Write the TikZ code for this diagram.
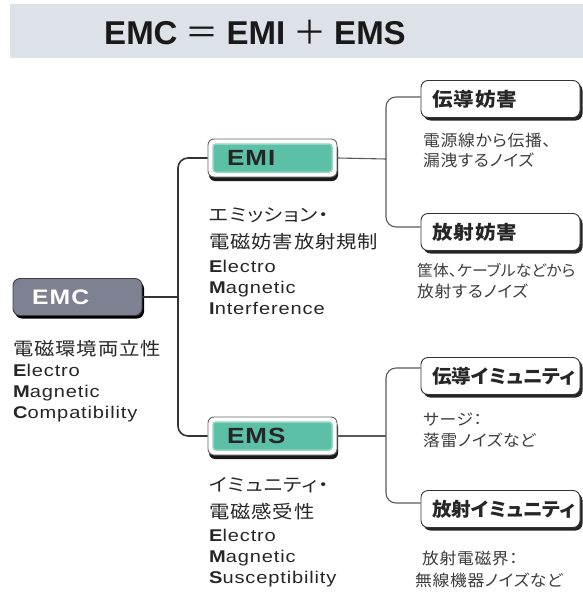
\documentclass[tikz,border=0pt]{standalone}
\usepackage{fontspec}
\usetikzlibrary{shadows}
\setmainfont{Liberation Sans}
\newfontfamily\jp[RawFeature=+palt]{Noto Sans CJK JP}
\newfontfamily\jpsp[RawFeature=+palt,FakeStretch=1.13,LetterSpace=5]{Noto Sans CJK JP}
\newfontfamily\jpbox[RawFeature=+palt,FakeStretch=1.08,LetterSpace=6]{Noto Sans CJK JP}
\newfontfamily\jpboxn[RawFeature=+palt,FakeStretch=1.03,LetterSpace=0.5]{Noto Sans CJK JP}
\newfontfamily\jpsm[RawFeature=+palt,FakeStretch=1.05,LetterSpace=4]{Noto Sans CJK JP}
\newfontfamily\jpsmn[RawFeature=+palt,FakeStretch=1.02,LetterSpace=1]{Noto Sans CJK JP}
\newfontfamily\lat[FakeStretch=1.18,LetterSpace=5]{Liberation Sans}
\definecolor{band}{HTML}{DCE2E8}
\definecolor{emcfill}{HTML}{7E8192}
\definecolor{tealf}{HTML}{5CC0A6}
\definecolor{tealb}{HTML}{8FD5C2}
\definecolor{txt}{HTML}{262626}
\definecolor{lin}{HTML}{333333}
\newcommand{\B}[1]{{\bfseries #1}}
\begin{document}
\begin{tikzpicture}[x=1pt,y=-1pt,
  emcbox/.style={draw=black!75,line width=0.9pt,fill=emcfill,rounded corners=7pt,
    minimum height=37pt,text width=91pt,inner xsep=19pt,inner ysep=0pt,align=left,
    text=white,font=\fontsize{21}{21}\selectfont\bfseries\lat,
    drop shadow={shadow xshift=2pt,shadow yshift=-3pt,fill=black,opacity=1}},
  subbox/.style={draw=black!60,line width=0.9pt,fill=white,rounded corners=6pt,
    minimum height=38pt,text width=91pt,inner xsep=19pt,inner ysep=0pt,align=left,
    text=txt,font=\fontsize{22}{22}\selectfont\bfseries\lat,
    drop shadow={shadow xshift=1pt,shadow yshift=-4pt,fill=black!90,opacity=1},
    path picture={\fill[tealf,draw=tealb,line width=1.5pt,rounded corners=3pt]
      ([shift={(5pt,-5pt)}]path picture bounding box.north west) rectangle
      ([shift={(-5pt,5pt)}]path picture bounding box.south east);}},
  leafbox/.style={draw=black!80,line width=0.9pt,fill=white,rounded corners=7pt,
    minimum height=37pt,text width=150pt,inner xsep=4.5pt,inner ysep=0pt,align=left,
    text=txt,font=\fontsize{19}{19}\selectfont\bfseries\jpbox,
    drop shadow={shadow xshift=2.5pt,shadow yshift=-3pt,fill=black!85,opacity=1}},
  jpdesc/.style={anchor=west,inner sep=0pt,text=txt,font=\fontsize{18}{18}\selectfont\jpsp},
  endesc/.style={anchor=north west,inner sep=0pt,text=txt,align=left,
    font=\fontsize{17}{21}\selectfont\lat},
  leafdesc/.style={anchor=west,inner sep=0pt,text=txt!90,font=\fontsize{16}{16}\selectfont\jpsm},
  conn/.style={draw=lin,line width=1.6pt},
  thin/.style={draw=black!65,line width=1.1pt}]
\useasboundingbox (0,0) rectangle (583,594);
% title band
\fill[band] (10,4) rectangle (583,58);
\node[inner sep=0pt,text=black!90] (title) at (255,32)
  {\fontsize{33}{33}\selectfont\bfseries EMC\hspace{8pt}{\jp\mdseries ＝}\hspace{8pt}EMI\hspace{8pt}{\jp\mdseries ＋}\hspace{8pt}EMS};
% main boxes
\node[emcbox] (emc) at (77.5,297) {EMC};
\node[subbox] (emi) at (272.5,158) {EMI};
\node[subbox] (ems) at (272.5,436) {EMS};
% leaf boxes
\node[leafbox] (b1) at (500.5,99) {\hspace*{6.5pt}伝導妨害};
\node[leafbox] (b2) at (500.5,232) {\hspace*{6.5pt}放射妨害};
\node[leafbox] (b3) at (500.5,376) {\hspace*{6.5pt}\jpboxn 伝導イミュニティ};
\node[leafbox] (b4) at (500.5,509) {\hspace*{6.5pt}\jpboxn 放射イミュニティ};
% connectors
\coordinate (j0) at (178,297);
\coordinate (j1) at (386,159);
\coordinate (j2) at (386,436);
\draw[conn] (emc.east) -- (j0);
\draw[conn,rounded corners=10pt] (emi.west) -| (j0) |- (ems.west);
\draw[thin] (emi.east) -- (j1);
\draw[thin] (ems.east) -- (j2);
\draw[thin,rounded corners=10pt] ([yshift=2pt]b1.west) -| (j1) |- ([yshift=5pt]b2.west);
\draw[thin,rounded corners=10pt] ([yshift=8pt]b3.west) -| (j2) |- ([yshift=6pt]b4.west);
% EMC texts
\node[jpdesc] (emcjp) at (13,349) {電磁環境両立性};
\node[endesc] (emcen) at (13,364) {\B{E}lectro\\\B{M}agnetic\\\B{C}ompatibility};
% EMI texts
\node[jpdesc] (emijp1) at (209,215) {エミッション・};
\node[jpdesc] (emijp2) at (209,242) {電磁妨害放射規制};
\node[endesc] (emien) at (209,260) {\B{E}lectro\\\B{M}agnetic\\\B{I}nterference};
% EMS texts
\node[jpdesc] (emsjp1) at (209,485) {イミュニティ・};
\node[jpdesc] (emsjp2) at (209,512) {電磁感受性};
\node[endesc] (emsen) at (209,529) {\B{E}lectro\\\B{M}agnetic\\\B{S}usceptibility};
% leaf descriptions
\node[leafdesc] (d1a) at (423,140) {電源線から伝播、};
\node[leafdesc] (d1b) at (423,160) {漏洩するノイズ};
\node[leafdesc,font=\fontsize{15.5}{15.5}\selectfont\jpsmn] (d2a) at (417,270) {筐体、ケーブルなどから};
\node[leafdesc] (d2b) at (417,291) {放射するノイズ};
\node[leafdesc] (d3a) at (423,420) {サージ：};
\node[leafdesc] (d3b) at (423,440) {落雷ノイズなど};
\node[leafdesc] (d4a) at (422,558) {放射電磁界：};
\node[leafdesc] (d4b) at (415,580) {無線機器ノイズなど};
\end{tikzpicture}
\end{document}
